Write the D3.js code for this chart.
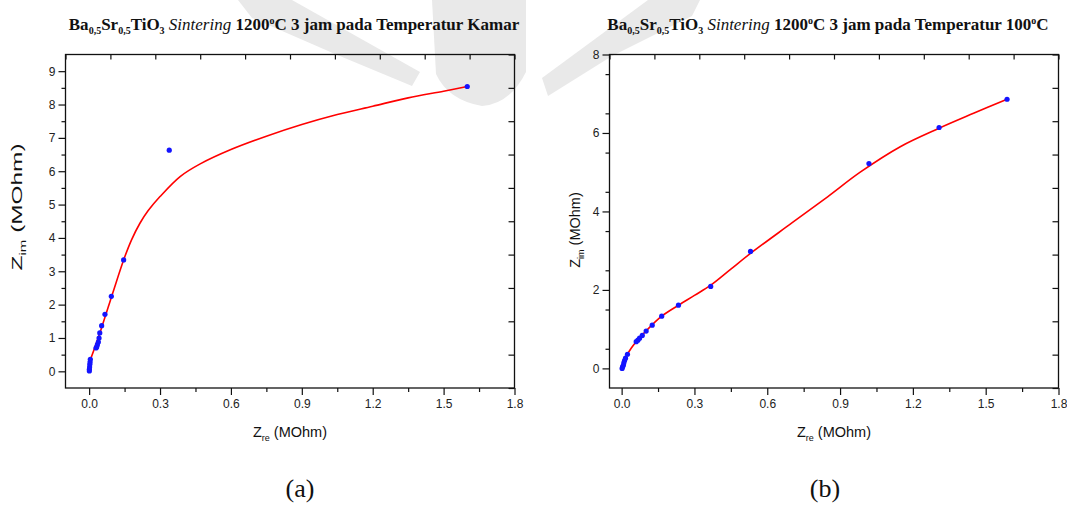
<!DOCTYPE html>
<html>
<head>
<meta charset="utf-8">
<script src="https://cdn.jsdelivr.net/npm/d3@7"></script>
<style>
  body { margin: 0; background: #fff; }
  svg { display: block; }
</style>
</head>
<body>
<div id="chart"></div>
<script>
// (a) room temperature - measured points
var aZre = [0.001, 0.001, 0.002, 0.003, 0.004, 0.005, 0.029, 0.032, 0.035, 0.039, 0.042, 0.045, 0.053, 0.067, 0.094, 0.146, 0.339, 1.60];
var aZim = [0.01, 0.06, 0.13, 0.21, 0.28, 0.36, 0.70, 0.73, 0.80, 0.88, 1.00, 1.15, 1.37, 1.71, 2.25, 3.34, 6.63, 8.54];
// (a) fitted curve
var aFitZre = [0.003, 0.05, 0.1, 0.146, 0.18, 0.215, 0.25, 0.3, 0.385, 0.47, 0.6, 0.75, 0.9, 1.05, 1.2, 1.35, 1.5, 1.6];
var aFitZim = [0.30, 1.25, 2.35, 3.34, 3.95, 4.44, 4.82, 5.24, 5.84, 6.22, 6.65, 7.05, 7.40, 7.70, 7.95, 8.20, 8.40, 8.54];

// (b) 100 C - measured points
var bZre = [0.002, 0.004, 0.007, 0.009, 0.012, 0.016, 0.024, 0.060, 0.067, 0.074, 0.085, 0.101, 0.126, 0.165, 0.234, 0.367, 0.531, 1.019, 1.308, 1.588];
var bZim = [0.00, 0.04, 0.08, 0.14, 0.20, 0.26, 0.36, 0.68, 0.72, 0.77, 0.84, 0.95, 1.10, 1.33, 1.61, 2.09, 2.98, 5.22, 6.14, 6.86];
// (b) fitted curve
var bFitZre = [0, 0.01, 0.024, 0.04, 0.06, 0.1, 0.165, 0.234, 0.3, 0.367, 0.45, 0.531, 0.7, 0.85, 0.983, 1.148, 1.308, 1.45, 1.588];
var bFitZim = [0, 0.15, 0.36, 0.52, 0.68, 0.95, 1.33, 1.61, 1.86, 2.12, 2.53, 2.93, 3.70, 4.38, 5.00, 5.65, 6.12, 6.50, 6.86];

var xTicks = [0.0, 0.3, 0.6, 0.9, 1.2, 1.5, 1.8];
var aYTicks = [0, 1, 2, 3, 4, 5, 6, 7, 8, 9];
var bYTicks = [0, 2, 4, 6, 8];

var W = 1067, H = 506;
var svg = d3.select('#chart').append('svg').attr('width', W).attr('height', H);

var sansFont = '"Liberation Sans", Arial, sans-serif';
var serifFont = '"Liberation Serif", "Times New Roman", serif';

// faint page watermark behind the charts
var wm = svg.append('g').attr('fill', '#e9e9e9');
wm.append('path').attr('d', 'M238,0 L292,0 L420,72 L412,86 L335,54 L252,18 Z');
wm.append('path').attr('d', 'M432,0 L526,0 L526,72 Q510,104 482,106 Q448,100 436,74 Z');
wm.append('path').attr('d', 'M700,0 L648,0 L542,78 L548,96 L612,56 L692,16 Z');

function zip(xs, ys) {
    return xs.map(function(v, i){ return { x: v, y: ys[i] }; });
}

function drawPanel(p) {
    var x = d3.scaleLinear().domain(p.xDomain).range([p.left, p.right]);
    var y = d3.scaleLinear().domain(p.yDomain).range([p.bottom, p.top]);
    // top/right axes carry their own 0..10 scale
    var xTop = d3.scaleLinear().domain([0, 10]).range([p.left, p.right]);
    var yRight = d3.scaleLinear().domain([0, 10]).range([p.bottom, p.top]);

    var g = svg.append('g');

    // minor ticks
    var xMinor = d3.range(0.15, 1.8, 0.3);
    var yMinor = d3.range(p.yDomain[0] + p.yMinor, p.yDomain[1], p.yMinor).filter(function(v){
        return Math.abs(v / p.yMajor - Math.round(v / p.yMajor)) > 1e-6;
    });

    g.append('g')
        .attr('transform', 'translate(0,' + p.bottom + ')')
        .call(d3.axisBottom(x).tickValues(xMinor).tickSize(4).tickFormat(''));
    g.append('g')
        .attr('transform', 'translate(' + p.left + ',0)')
        .call(d3.axisLeft(y).tickValues(yMinor).tickSize(4).tickFormat(''));

    g.append('g')
        .attr('transform', 'translate(0,' + p.bottom + ')')
        .call(d3.axisBottom(x).tickValues(xTicks).tickSize(7).tickPadding(4).tickFormat(d3.format('.1f')));
    g.append('g')
        .attr('transform', 'translate(' + p.left + ',0)')
        .call(d3.axisLeft(y).tickValues(p.yTicks).tickSize(7).tickPadding(3).tickFormat(d3.format('d')));

    g.append('g')
        .attr('transform', 'translate(0,' + p.top + ')')
        .call(d3.axisTop(xTop).tickValues(d3.range(0, 11)).tickSize(-5).tickFormat(''));
    g.append('g')
        .attr('transform', 'translate(' + p.right + ',0)')
        .call(d3.axisRight(yRight).tickValues(d3.range(0, 11)).tickSize(-6).tickFormat(''));

    g.selectAll('.domain').remove();
    g.selectAll('.tick line').attr('stroke', '#111').attr('stroke-width', 1.2);
    g.selectAll('.tick text')
        .attr('fill', '#222')
        .style('font-family', sansFont)
        .style('font-size', '12px');

    // frame
    g.append('rect')
        .attr('x', p.left).attr('y', p.top)
        .attr('width', p.right - p.left).attr('height', p.bottom - p.top)
        .attr('fill', 'none').attr('stroke', '#111').attr('stroke-width', 1.3);

    // fitted curve
    var line = d3.line()
        .x(function(d){ return x(d.x); })
        .y(function(d){ return y(d.y); })
        .curve(d3.curveCatmullRom.alpha(0.5));
    g.append('path')
        .datum(zip(p.fitX, p.fitY))
        .attr('fill', 'none')
        .attr('stroke', '#ff0000')
        .attr('stroke-width', 1.6)
        .attr('d', line);

    // measured points
    g.selectAll('circle.pt')
        .data(zip(p.ptX, p.ptY))
        .enter()
        .append('circle')
        .attr('class', 'pt')
        .attr('cx', function(d){ return x(d.x); })
        .attr('cy', function(d){ return y(d.y); })
        .attr('r', 2.6)
        .attr('fill', '#1414ff');

    // title
    var t = g.append('text')
        .attr('x', p.titleX).attr('y', 30)
        .attr('text-anchor', 'middle')
        .style('font-family', serifFont)
        .style('font-size', '17px')
        .style('font-weight', 'bold')
        .attr('fill', '#111');
    t.append('tspan').text('Ba');
    t.append('tspan').attr('dy', 4).style('font-size', '10px').text('0,5');
    t.append('tspan').attr('dy', -4).text('Sr');
    t.append('tspan').attr('dy', 4).style('font-size', '10px').text('0,5');
    t.append('tspan').attr('dy', -4).text('TiO');
    t.append('tspan').attr('dy', 4).style('font-size', '10px').text('3');
    t.append('tspan').attr('dy', -4).style('font-style', 'italic').style('font-weight', 'normal').text(' Sintering');
    t.append('tspan').text(' 1200');
    t.append('tspan').attr('dy', -6).style('font-size', '10px').text('o');
    t.append('tspan').attr('dy', 6).text('C 3 jam pada Temperatur ' + p.titleTail);
    if (p.titleSup) {
        t.append('tspan').attr('dy', -6).style('font-size', '10px').text('o');
        t.append('tspan').attr('dy', 6).text('C');
    }

    // x axis title
    var cx = (p.left + p.right) / 2;
    var xt = g.append('text')
        .attr('x', cx).attr('y', 437)
        .attr('text-anchor', 'middle')
        .style('font-family', sansFont)
        .style('font-size', '14.5px')
        .attr('fill', '#111');
    xt.append('tspan').text('Z');
    xt.append('tspan').attr('dy', 4).style('font-size', '9px').text('re');
    xt.append('tspan').attr('dy', -4).text(' (MOhm)');

    // y axis title
    var yt = g.append('text')
        .attr('transform', 'translate(' + p.yTitleX + ',' + p.yTitleY + ') rotate(-90)')
        .attr('text-anchor', 'middle')
        .style('font-family', sansFont)
        .style('font-size', '14.5px')
        .attr('fill', '#111');
    if (p.yTitleLen) {
        yt.attr('textLength', p.yTitleLen).attr('lengthAdjust', 'spacingAndGlyphs');
    }
    yt.append('tspan').text('Z');
    yt.append('tspan').attr('dy', 4).style('font-size', '9px').text('im');
    yt.append('tspan').attr('dy', -4).text(' (MOhm)');

    // panel label
    g.append('text')
        .attr('x', p.labelX).attr('y', 497)
        .attr('text-anchor', 'middle')
        .style('font-family', serifFont)
        .style('font-size', '26px')
        .attr('fill', '#111')
        .text(p.label);
}

drawPanel({
    left: 65.5, right: 514.5, top: 54.5, bottom: 388,
    xDomain: [-0.1, 1.8], yDomain: [-0.5, 9.5],
    yTicks: aYTicks, yMajor: 1, yMinor: 0.5,
    ptX: aZre, ptY: aZim, fitX: aFitZre, fitY: aFitZim,
    titleX: 294, titleTail: 'Kamar', titleSup: false,
    yTitleX: 22, yTitleY: 207, yTitleLen: 127,
    labelX: 300, label: '(a)'
});

drawPanel({
    left: 609.5, right: 1058.5, top: 54.5, bottom: 388,
    xDomain: [-0.05, 1.8], yDomain: [-0.5, 8],
    yTicks: bYTicks, yMajor: 2, yMinor: 1,
    ptX: bZre, ptY: bZim, fitX: bFitZre, fitY: bFitZim,
    titleX: 828, titleTail: '100', titleSup: true,
    yTitleX: 580, yTitleY: 230, yTitleLen: 0,
    labelX: 825, label: '(b)'
});
</script>
</body>
</html>
